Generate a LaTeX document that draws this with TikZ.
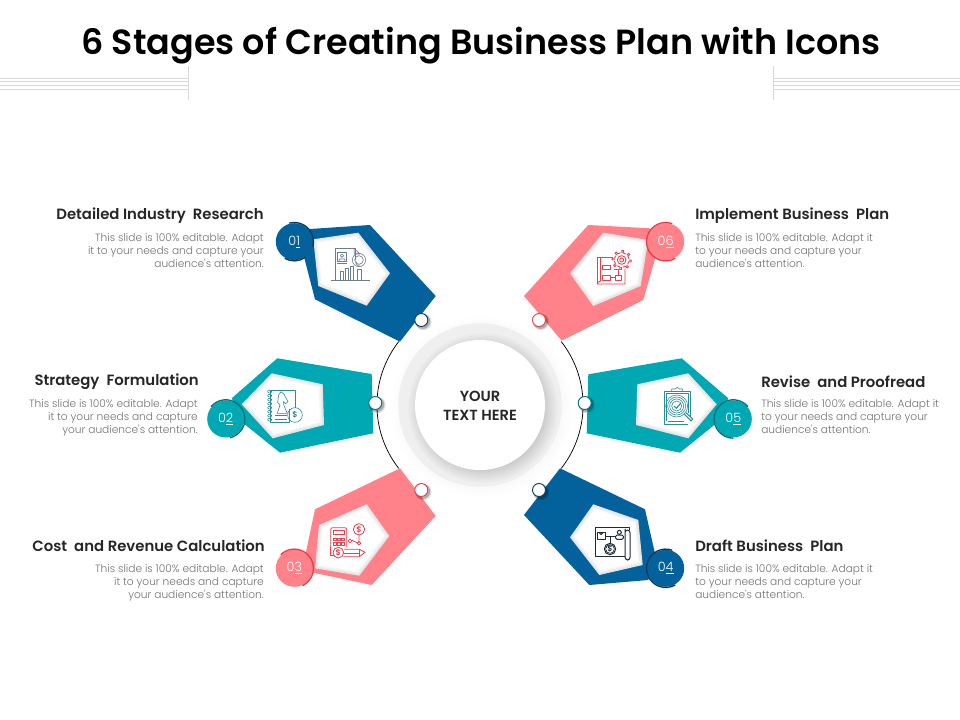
\documentclass[tikz,border=0pt]{standalone}
\usepackage{fontspec}
\setmainfont{Poppins}
\newfontfamily\semi{Poppins SemiBold}
\newfontfamily\medi{Poppins Medium}
\newfontfamily\lite{Poppins Light}
\definecolor{cblue}{HTML}{03619C}
\definecolor{cteal}{HTML}{00A8B3}
\definecolor{cpink}{HTML}{FF8189}
\definecolor{dblue}{HTML}{0A3A5E}
\definecolor{dteal}{HTML}{0B7079}
\definecolor{dpink}{HTML}{E63E4C}
\definecolor{iblue}{HTML}{6B7C8C}
\definecolor{iteal}{HTML}{2E8C94}
\definecolor{ired}{HTML}{E5404E}
\definecolor{idark}{HTML}{1D2B36}
\definecolor{bodyg}{HTML}{737373}
\definecolor{headk}{HTML}{262626}
\definecolor{rule}{HTML}{D9D9D9}
\definecolor{ring}{HTML}{EFEFEF}
\tikzset{
  numc/.style={circle,minimum size=27.75pt,inner sep=0pt,fill=#1,text=white,font=\lite\fontsize{9.6}{11}\selectfont},
  dotc/.style={circle,minimum size=9.75pt,inner sep=0pt,fill=white,draw=#1,line width=.7pt},
  headl/.style={font=\semi\fontsize{11.15}{13}\selectfont,text=headk,inner sep=0pt},
  bodyl/.style={font=\lite\fontsize{7.95}{9.75}\selectfont,text=bodyg,inner sep=0pt,align=left},
  bodyr/.style={font=\lite\fontsize{7.95}{9.75}\selectfont,text=bodyg,inner sep=0pt,align=right},
  zoomed/.style={x=.25pt,y=-.25pt},
  ico/.style={draw=#1,line width=.45pt,line join=round,fill=none},
  dollar/.style={text=#1,inner sep=0pt,font=\semi\fontsize{6}{6}\selectfont}
}
\newcommand\petal[3]{%
  \fill[#1] #2 -- cycle;
  \begin{scope}
    \clip #3 -- cycle;
    \fill[white] (0,0) rectangle (960,720);
    \foreach \w in {6,4,2}{\draw[black,opacity=.035,line width=\w pt] #3 -- cycle;}
  \end{scope}}
\newcommand\softshadow[4]{%
  \foreach \g in {0,1.5,...,9}{\fill[black,opacity=#4] (#1,#2) circle[radius=#3pt+\g pt];}}
\newcommand\bad[5]{\draw[#1,line width=1pt] (#2)++(#3:14.4pt) arc[start angle=#3,end angle=#4,radius=14.4pt];}
\begin{document}
\begin{tikzpicture}[x=.75pt,y=-.75pt]
\useasboundingbox (0,0) rectangle (960,720);
\fill[white] (0,0) rectangle (960,720);
% title
\node[inner sep=0pt,text=black,font=\semi\fontsize{26.2}{32}\selectfont] (title) at (481,46) {6 Stages of Creating Business Plan with Icons};
% header rules
\foreach \yy in {78.3,81.7,85,89.3}{
  \draw[rule,line width=.6pt] (0,\yy) -- (188.5,\yy);
  \draw[rule,line width=.6pt] (773.5,\yy) -- (960,\yy);}
\draw[rule,line width=.5pt] (188.5,66) -- (188.5,100);
\draw[rule,line width=.5pt] (773.5,66) -- (773.5,100);
% centre
\coordinate (cc) at (480,405);
\softshadow{482}{407}{59}{.003}
\fill[ring] (cc) circle[radius=61.3pt];
\softshadow{483}{408}{47}{.02}
\node[circle,fill=white,minimum size=97.5pt,inner sep=0pt] (hub) at (cc) {};
\node[inner sep=0pt,align=center,text=headk,font=\semi\fontsize{11}{14.6}\selectfont] (hubt) at (480,406) {YOUR\\TEXT HERE};
\draw[black,line width=.55pt] (cc)++(142:77.3pt) arc[start angle=142,end angle=218,radius=77.3pt];
\draw[black,line width=.55pt] (cc)++(38:77.3pt) arc[start angle=38,end angle=-38,radius=77.3pt];
% petals
\petal{cblue}{(310,229) -- (370,225) -- (435.7,296) -- (400,341.7) -- (315,299.3) -- (303,253)}{(313.3,239.3) -- (358.3,232.7) -- (390,273.3) -- (366.7,305.7) -- (318.3,286)}
\petal{cteal}{(231.7,398.3) -- (277.3,358.3) -- (371.7,374) -- (373.3,433.3) -- (280,452.7) -- (243,423)}{(241.7,404.3) -- (271.7,373.3) -- (322.7,384.3) -- (324,425) -- (272.7,438.3)}
\petal{cpink}{(400,468.3) -- (435.7,516) -- (371.7,585) -- (310,572) -- (305,556.7) -- (315,509.3)}{(366.7,504.3) -- (389.3,536) -- (359.3,575.7) -- (315,568.3) -- (319,525)}
\petal{cpink}{(588.3,225) -- (650,228.3) -- (656.7,253) -- (643.3,300) -- (561.7,340.7) -- (524,296)}{(603.3,232.7) -- (648.3,240) -- (640.7,286) -- (593.3,306) -- (570,273.3)}
\petal{cteal}{(588.3,374.3) -- (681.7,358.3) -- (728.3,398.3) -- (716.7,423) -- (680,452.7) -- (586.7,433.3)}{(637.3,384.3) -- (688.3,373.3) -- (716.7,404.3) -- (688.3,438.3) -- (636,425)}
\petal{cblue}{(560,468.3) -- (645,509.3) -- (655.7,556.7) -- (648.3,580) -- (589.3,585) -- (524,515)}{(593.3,504.3) -- (638.3,520) -- (642.7,565) -- (599.3,575) -- (570,537.3)}
% number circles
\node[numc=cblue] (n1) at (294.3,241.7) {0\underline{1}};
\node[numc=cteal] (n2) at (225.7,419) {0\underline{2}};
\node[numc=cpink] (n3) at (294.3,568.3) {0\underline{3}};
\node[numc=cblue] (n4) at (665.7,568.3) {0\underline{4}};
\node[numc=cteal] (n5) at (733.3,419) {0\underline{5}};
\node[numc=cpink] (n6) at (665.7,241.7) {0\underline{6}};
\bad{dblue}{n1}{105}{-15}{}
\bad{dblue}{n1}{-55}{-120}{}
\bad{dteal}{n2}{140}{-77}{}
\bad{dpink}{n3}{135}{-65}{}
\bad{dblue}{n4}{70}{300}{}
\bad{dteal}{n5}{40}{270}{}
\bad{dpink}{n6}{70}{300}{}
% connector dots
\foreach \xx/\yy/\cc in {421.3/320/dblue,375.3/403/dteal,421.3/490/dpink,539/490/dblue,584.7/403/dteal,539/320/dpink}{
  \fill[black,opacity=.22] (\xx+1.5,\yy+1.5) circle[radius=5.6pt];
  \fill[black,opacity=.12] (\xx+2,\yy+2) circle[radius=6.2pt];}
\node[dotc=dblue] (d1) at (421.3,320) {};
\node[dotc=dteal] (d2) at (375.3,403) {};
\node[dotc=dpink] (d3) at (421.3,490) {};
\node[dotc=dblue] (d4) at (539,490) {};
\node[dotc=dteal] (d5) at (584.7,403) {};
\node[dotc=dpink] (d6) at (539,320) {};
% left texts
\node[headl,anchor=east] (h1) at (264,215.5) {Detailed Industry\ \ Research};
\node[bodyr,anchor=north east] (b1) at (264,233.5) {This slide is 100\% editable. Adapt\\it to your needs and capture your\\audience's attention.};
\node[headl,anchor=east] (h2) at (199,381.5) {Strategy\ \ Formulation};
\node[bodyr,anchor=north east] (b2) at (198,399.5) {This slide is 100\% editable. Adapt\\it to your needs and capture\\your audience's attention.};
\node[headl,anchor=east] (h3) at (265,546) {Cost\ \ and Revenue Calculation};
\node[bodyr,anchor=north east] (b3) at (264,564.5) {This slide is 100\% editable. Adapt\\it to your needs and capture\\your audience's attention.};
% right texts
\node[headl,anchor=west] (h6) at (695,215.5) {Implement Business\ \ Plan};
\node[bodyl,anchor=north west] (b6) at (695,233.5) {This slide is 100\% editable. Adapt it\\to your needs and capture your\\audience's attention.};
\node[headl,anchor=west] (h5) at (761,381.5) {Revise\ \ and Proofread};
\node[bodyl,anchor=north west] (b5) at (761,399.5) {This slide is 100\% editable. Adapt it\\to your needs and capture your\\audience's attention.};
\node[headl,anchor=west] (h4) at (695,546) {Draft Business\ \ Plan};
\node[bodyl,anchor=north west] (b4) at (695,564.5) {This slide is 100\% editable. Adapt it\\to your needs and capture your\\audience's attention.};
% icon 01
\begin{scope}[shift={(260,210)},zoomed]
  \draw[ico=iblue] (285,150) -- (285,115) -- (225,115) -- (225,210);
  \draw[ico=iblue] (282,115) -- (300,132) -- (283,132) -- cycle;
  \draw[ico=iblue] (232,128) rectangle (260,155);
  \draw[ico=iblue] (246,137) circle (5);
  \draw[ico=iblue] (237,153) -- (238,147) -- (254,147) -- (255,153);
  \draw[ico=iblue,line width=.9pt] (232,161) -- (260,161);
  \draw[ico=iblue] (297,150) circle (20);
  \draw[ico=iblue] (297,150) circle (13);
  \draw[ico=iblue] (289,155) arc[start angle=200,end angle=70,radius=10];
  \draw[ico=iblue] (240,210) -- (240,183) -- (250,183) -- (250,210);
  \draw[ico=iblue] (255,210) -- (255,175) -- (265,175) -- (265,210);
  \draw[ico=iblue] (270,210) -- (270,168) -- (280,168) -- (280,210);
  \draw[ico=iblue] (292,210) -- (292,178) -- (303,178) -- (303,210);
  \draw[ico=iblue,line width=.8pt] (213,212) -- (330,212);
\end{scope}
% icon 02
\begin{scope}[shift={(200,345)},zoomed]
  \draw[ico=iteal] (268,192) -- (268,232) -- (212,232) -- (212,135) -- (285,135) -- (285,190);
  \foreach \yy in {140,152,...,224}{\draw[ico=iteal] (209,\yy) ellipse (6 and 4);}
  \draw[ico=iteal] (232,205) -- (240,180) -- (233,172) -- (236,150) -- (243,140) -- (252,148) -- (264,170) -- (257,176) -- (250,170) -- (252,182) -- (262,205) -- cycle;
  \draw[ico=iteal] (225,212) -- (262,212) (225,222) -- (262,222);
  \draw[ico=iteal] (285,210) circle (22);
  \node[dollar=iteal] (ds2) at (285,210) {\$};
\end{scope}
% icon 03
\begin{scope}[shift={(260,460)},zoomed]
  \draw[ico=ired,line width=.6pt,rounded corners=1.5pt] (212,262) -- (212,203) -- (260,203) -- (260,262);
  \draw[ico=ired,line width=.6pt] (212,262) -- (212,285) -- (222,285);
  \draw[ico=ired,line width=.6pt] (219,210) rectangle (253,224);
  \foreach \yy in {234,248}{\foreach \xx in {220,232,244}{\draw[ico=ired,line width=.6pt] (\xx,\yy) rectangle ++(8,7);}}
  \draw[ico=ired,line width=.6pt] (297,208) circle (17);
  \node[dollar=ired] (ds3a) at (297,208) {\$};
  \draw[ico=ired,line width=.6pt] (270,243) circle (5.5);
  \draw[ico=ired,line width=.6pt] (297,250) circle (5.5);
  \draw[ico=ired,line width=.6pt] (297,225) -- (297,244) (275,240) -- (292,249);
  \draw[ico=ired,line width=.6pt] (252,268) -- (298,268) -- (315,277) -- (298,290) -- (250,290);
  \draw[ico=ired,line width=.6pt] (298,268) -- (298,290) (252,279) -- (298,279);
  \fill[white] (235,278) circle (16);
  \draw[ico=ired,line width=.6pt] (235,278) circle (16);
  \node[dollar=ired] (ds3b) at (235,278) {\$};
\end{scope}
% icon 04
\begin{scope}[shift={(510,460)},zoomed]
  \draw[ico=idark,line width=.75pt] (345,290) -- (255,290) -- (255,203) -- (358,203) -- (358,210);
  \draw[ico=idark,line width=.75pt,rounded corners=2pt] (345,290) -- (345,215) -- (345,210) -- (360,210) -- (360,300) -- (346,300) -- (345,290);
  \draw[ico=idark,line width=.75pt] (262,218) rectangle (285,238);
  \draw[ico=idark,line width=.75pt] (268,218) arc[start angle=180,end angle=0,radius=5.5];
  \draw[ico=idark,line width=.75pt,rounded corners=1pt] (317,238) -- (317,225) -- (340,225) -- (340,238) -- cycle;
  \draw[ico=idark,line width=.75pt] (328,217) circle (6);
  \draw[ico=idark,line width=.75pt] (285,228) -- (317,228) (300,228) -- (300,250);
  \draw[ico=idark,line width=.75pt] (300,267) circle (17);
  \draw[ico=idark,line width=.5pt] (300,267) circle (13);
  \node[dollar=idark] (ds4) at (300,267) {\$};
\end{scope}
% icon 05
\begin{scope}[shift={(560,345)},zoomed]
  \draw[ico=iteal] (392,215) -- (392,138) -- (312,138) -- (312,237) -- (385,237);
  \draw[ico=iteal] (320,228) -- (320,146) -- (384,146) -- (384,205);
  \draw[ico=iteal] (335,140) -- (335,132) -- (345,132) -- (352,127) -- (358,132) -- (368,132) -- (368,140) -- cycle;
  \foreach \rr in {33,27,21,15}{\draw[ico=iteal] (350,183) circle (\rr);}
  \draw[ico=iteal,line width=.8pt] (342,183) -- (349,190) -- (362,175);
  \draw[ico=iteal,line width=.8pt] (373,208) -- (393,228) -- (398,222) -- (378,203);
  \draw[ico=iteal] (325,228) -- (372,228);
\end{scope}
% icon 06
\begin{scope}[shift={(510,210)},zoomed]
  \draw[ico=ired,line width=.65pt] (310,143) -- (262,143) -- (262,218);
  \draw[ico=ired,line width=.65pt] (272,143) -- (272,213) -- (262,218) -- (262,222) -- (345,222) -- (345,176);
  \draw[ico=ired,line width=.65pt] (278,165) rectangle (300,178);
  \draw[ico=ired,line width=.65pt] (278,197) rectangle (300,210);
  \draw[ico=ired,line width=.65pt] (315,197) rectangle (335,210);
  \draw[ico=ired,line width=.65pt] (300,203) -- (315,203) (325,197) -- (325,178) -- (313,178);
  \fill[white] (335,150) circle (26);
  \foreach \aa in {0,45,...,315}{
    \draw[ico=ired,line width=.65pt]
      (335,150)++(\aa-13:5.5pt) -- ++(\aa-6:1.8pt) -- ++(\aa+90:1.4pt) -- ++(\aa+6:-1.8pt)
      (335,150)++(\aa+9:5.5pt) arc[start angle=\aa+9,end angle=\aa+32,radius=5.5pt];}
  \draw[ico=ired,line width=.65pt] (335,150) circle (13);
  \draw[ico=ired,line width=.65pt] (335,150) circle (6);
\end{scope}
\end{tikzpicture}
\end{document}
